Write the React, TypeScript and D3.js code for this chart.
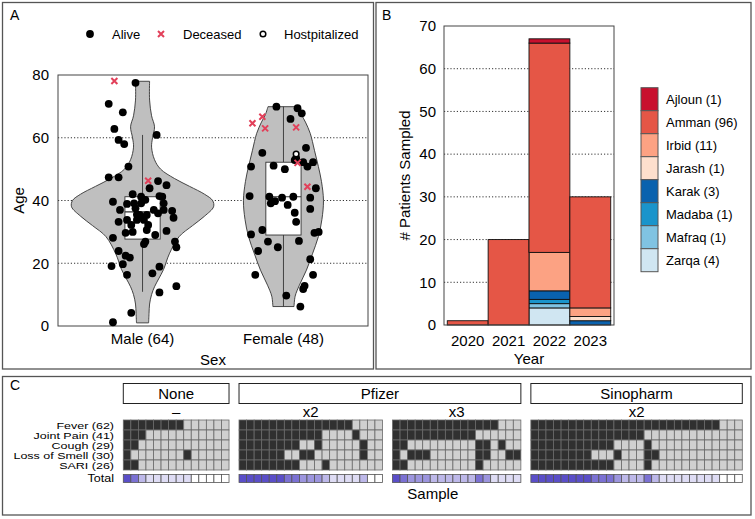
import React from 'react';
import * as d3 from 'd3';

const FONT = '"Liberation Sans", Arial, Helvetica, sans-serif';

// ---------- Panel A data ----------
const sexCategories = ['Male (64)', 'Female (48)'];
const ageTicks = [0, 20, 40, 60, 80];
const ageGrid = [20, 40, 60];
const statusLegend = ['Alive', 'Deceased', 'Hostpitalized'];
// [jitter (category units), age, status]  0 alive, 1 deceased, 2 hospitalized
const malePoints: [number, number, number][] = [
  [-0.2, 78.1, 1], [-0.05, 77.5, 0], [-0.24, 70.8, 0], [-0.14, 68.1, 0], [-0.2, 62.8, 0],
  [0.1, 60.9, 0], [-0.17, 59.3, 0], [-0.13, 58, 0], [-0.1, 50.8, 0], [-0.24, 47.4, 0],
  [-0.17, 47.4, 0], [0.04, 46.3, 1], [0.11, 46.2, 0], [0.17, 44.9, 0], [0.05, 43.9, 0],
  [-0.21, 39.6, 0], [-0.07, 42, 0], [-0.01, 41.2, 0], [0.12, 41.4, 0], [0.14, 41.2, 0],
  [0.02, 40.2, 0], [-0.11, 38.9, 0], [-0.06, 39.1, 0], [-0.01, 39.1, 0], [0.15, 39.1, 0],
  [-0.16, 37, 0], [0.08, 37, 0], [0.15, 37, 0], [0.21, 36.7, 0], [0.11, 35.9, 0],
  [-0.02, 35.4, 0], [0.03, 35.4, 0], [0.22, 34.5, 0], [-0.17, 33.2, 0], [-0.11, 33.8, 0],
  [-0.04, 33.8, 0], [0.01, 33.8, 0], [-0.08, 32.2, 0], [0.04, 32.2, 0], [0.03, 30.6, 0],
  [0.17, 30.3, 0], [-0.12, 29.7, 0], [-0.07, 30, 0], [0.09, 29, 0], [-0.21, 28.1, 0],
  [0.02, 26.9, 0], [0.23, 26.9, 0], [0.01, 26.1, 0], [0.24, 25.1, 0], [-0.17, 23.9, 0],
  [-0.12, 22.4, 0], [-0.09, 21.8, 0], [-0.14, 19.7, 0], [-0.22, 19.1, 0], [0.12, 18.9, 0],
  [0.07, 16.8, 0], [-0.11, 16.3, 0], [0.24, 12.7, 0], [0.12, 10.7, 0], [-0.08, 4.2, 0],
  [-0.21, 1.2, 0], [-0.05, 37.5, 0], [0.0, 34.5, 0], [-0.04, 35.5, 0],
];
const femalePoints: [number, number, number][] = [
  [-0.05, 69.9, 0], [0.1, 69.4, 0], [0.13, 67.8, 0], [-0.22, 64.6, 1], [-0.15, 66.7, 1],
  [-0.13, 63, 1], [0.09, 63.3, 1], [0.05, 66, 0], [0.16, 56.8, 0], [-0.15, 55.2, 0],
  [0.08, 52.9, 0], [0.14, 52.2, 0], [0.21, 52.2, 0], [0.17, 50.8, 0],
  [-0.23, 50.8, 0], [-0.07, 51.1, 0], [0.01, 50, 0], [0.17, 44.4, 1], [0.23, 43.9, 0],
  [-0.24, 41.4, 0], [-0.1, 41.2, 0], [-0.01, 40.9, 0], [0.07, 41.2, 0], [0.19, 40.9, 0],
  [-0.09, 39.1, 0], [-0.06, 39.8, 0], [0.03, 38.6, 0], [0.19, 37.3, 0], [0.08, 36.1, 0],
  [0.09, 33.2, 0], [-0.23, 29.2, 0], [-0.15, 30.6, 0], [0.22, 29.7, 0], [0.25, 30, 0],
  [-0.11, 26.9, 0], [0.11, 27.1, 0], [-0.04, 25.1, 0], [-0.18, 23.9, 0], [0.19, 21.3, 0],
  [-0.2, 16.3, 0], [0.21, 16.3, 0], [0.15, 12.8, 0], [0.14, 11.8, 0], [0.02, 9.7, 0],
  [0.12, 6.2, 0], [0.09, 53.5, 0], [0.1, 52, 1], [0.09, 54.8, 2],
];
// violin profiles: [age, half width in category units]
const maleViolin: [number, number][] = [
  [1, 0.043], [4, 0.046], [7, 0.05], [10, 0.064], [12.5, 0.085], [15, 0.114], [18, 0.149],
  [23, 0.19], [28.5, 0.26], [32, 0.355], [35, 0.44], [38, 0.504], [40, 0.497], [42, 0.44],
  [44.5, 0.334], [47, 0.227], [50, 0.128], [53, 0.085], [57, 0.064], [60, 0.071],
  [63.5, 0.085], [67, 0.064], [72, 0.05], [78, 0.05],
];
const femaleViolin: [number, number][] = [
  [6.2, 0.075], [9.5, 0.083], [13, 0.113], [17.8, 0.163], [23, 0.206], [28.5, 0.248],
  [34, 0.273], [40, 0.284], [46, 0.27], [50.8, 0.248], [56, 0.22], [61.4, 0.19],
  [65, 0.156], [67.4, 0.128], [69.9, 0.11],
];
// [lower whisker, q1, median, q3, upper whisker]
const maleBox = [10.9, 27.7, 36.4, 41.2, 60.9];
const femaleBox = [6.2, 29, 41.2, 52.2, 69.9];

// ---------- Panel B data ----------
const years = ['2020', '2021', '2022', '2023'];
const regions = ['Ajloun', 'Amman', 'Irbid', 'Jarash', 'Karak', 'Madaba', 'Mafraq', 'Zarqa'];
const regionColors = ['#c8102e', '#e55646', '#fca283', '#fddfcd', '#0a62ae', '#1a94cb', '#80c3e2', '#d0e6f2'];
const ajloun = [0, 0, 1, 0];
const amman = [1, 20, 49, 26];
const irbid = [0, 0, 9, 2];
const jarash = [0, 0, 0, 1];
const karak = [0, 0, 2, 1];
const madaba = [0, 0, 1, 0];
const mafraq = [0, 0, 1, 0];
const zarqa = [0, 0, 4, 0];
const patientTicks = [0, 10, 20, 30, 40, 50, 60, 70];
const patientGrid = [10, 20, 30, 40, 50, 60];

// ---------- Panel C data ----------
const symptoms = ['Fever', 'Joint Pain', 'Cough', 'Loss of Smell', 'SARI'];
const facetStrips = ['None', 'Pfizer', 'Pfizer', 'Sinopharm'];
const facetDoses = ['–', 'x2', 'x3', 'x2'];
const noneGrid = [
  [1, 1, 1, 1, 1, 1, 1, 1, 0, 0, 0, 0, 0, 0],
  [1, 1, 1, 0, 0, 0, 0, 0, 0, 0, 0, 0, 0, 0],
  [1, 1, 0, 0, 0, 0, 0, 0, 0, 0, 0, 0, 0, 0],
  [1, 0, 0, 0, 0, 0, 0, 0, 1, 0, 0, 0, 0, 0],
  [1, 1, 0, 0, 0, 0, 0, 0, 0, 0, 0, 0, 0, 0],
];
const pfizer2Grid = [
  [1, 1, 1, 1, 1, 1, 1, 1, 1, 1, 1, 1, 1, 1, 1, 0, 0, 0, 0],
  [1, 1, 1, 1, 1, 1, 1, 1, 1, 1, 1, 0, 0, 0, 0, 1, 0, 0, 0],
  [1, 1, 1, 1, 1, 1, 1, 1, 0, 0, 1, 0, 0, 0, 0, 0, 1, 0, 0],
  [1, 1, 1, 1, 1, 1, 0, 0, 1, 1, 0, 0, 0, 0, 0, 0, 1, 0, 0],
  [1, 1, 1, 1, 1, 1, 1, 1, 0, 0, 0, 1, 0, 0, 0, 0, 0, 0, 0],
];
const pfizer3Grid = [
  [1, 1, 1, 1, 1, 1, 1, 1, 1, 1, 1, 1, 1, 1, 0, 0, 0],
  [1, 1, 1, 1, 1, 1, 1, 1, 1, 1, 1, 0, 0, 0, 0, 0, 0],
  [1, 1, 0, 0, 0, 0, 0, 0, 0, 0, 0, 1, 1, 0, 1, 0, 0],
  [1, 0, 1, 1, 1, 0, 0, 0, 0, 0, 0, 1, 1, 0, 0, 1, 1],
  [1, 1, 0, 0, 0, 0, 0, 0, 0, 0, 0, 1, 0, 0, 0, 0, 0],
];
const sinopharmGrid = [
  [1, 1, 1, 1, 1, 1, 1, 1, 1, 1, 1, 1, 1, 1, 1, 1, 1, 1, 1, 1, 1, 1, 1, 1, 1, 0, 0, 0],
  [1, 1, 1, 1, 1, 1, 1, 1, 1, 1, 1, 1, 1, 1, 1, 0, 0, 0, 0, 0, 0, 0, 0, 0, 0, 0, 0, 0],
  [1, 1, 1, 1, 1, 1, 1, 1, 1, 1, 1, 0, 0, 0, 0, 1, 0, 0, 0, 0, 0, 0, 0, 0, 0, 0, 0, 0],
  [1, 1, 1, 1, 1, 1, 1, 1, 0, 0, 0, 1, 0, 0, 0, 1, 1, 0, 0, 0, 0, 0, 0, 0, 0, 0, 0, 0],
  [1, 1, 1, 1, 1, 1, 1, 1, 1, 1, 1, 0, 0, 0, 0, 1, 0, 0, 0, 0, 0, 0, 0, 0, 0, 0, 0, 0],
];

const RED = '#e2405a';

function PanelA() {
  const x = d3.scaleLinear().domain([0.4, 2.6]).range([58, 368]);
  const y = d3.scaleLinear().domain([0, 80]).range([326, 75]);
  const unit = x(1) - x(0);
  const violins = [maleViolin, femaleViolin];
  const boxes = [maleBox, femaleBox];
  const pts = [malePoints, femalePoints];
  const boxHalf = 0.125;
  return (
    <g fontFamily={FONT}>
      <text x={10} y={20} fontSize={14}>A</text>
      {/* legend */}
      <circle cx={90} cy={34} r={3.9} fill="#000" />
      <text x={112} y={39} fontSize={13}>{statusLegend[0]}</text>
      <path d="M158,31 L164,37 M158,37 L164,31" stroke={RED} strokeWidth={2} />
      <text x={183} y={39} fontSize={13}>{statusLegend[1]}</text>
      <circle cx={263} cy={34} r={2.8} fill="#fff" stroke="#000" strokeWidth={1.5} />
      <text x={284} y={39} fontSize={13}>{statusLegend[2]}</text>
      {ageGrid.map((t) => (
        <line key={t} x1={58} x2={368} y1={y(t)} y2={y(t)} stroke="#333" strokeWidth={1} strokeDasharray="1.2,2" />
      ))}
      <rect x={58} y={75} width={310} height={251} fill="none" stroke="#444" strokeWidth={1} />
      {ageTicks.map((t) => (
        <text key={t} x={49} y={y(t)} dy="0.35em" textAnchor="end" fontSize={15}>{t}</text>
      ))}
      <text transform={`translate(19,${(75 + 326) / 2}) rotate(-90)`} textAnchor="middle" dy="0.35em" fontSize={15}>Age</text>
      {sexCategories.map((c, i) => (
        <text key={c} x={x(i + 1)} y={344} textAnchor="middle" fontSize={15}>{c}</text>
      ))}
      <text x={213} y={365} textAnchor="middle" fontSize={15}>Sex</text>
      {violins.map((v, i) => {
        const cx = i + 1;
        const area = d3
          .area<[number, number]>()
          .y((d) => y(d[0]))
          .x0((d) => x(cx - d[1]))
          .x1((d) => x(cx + d[1]))
          .curve(d3.curveCatmullRom);
        return <path key={i} d={area(v) || ''} fill="#bfbfbf" stroke="#333" strokeWidth={0.9} />;
      })}
      {boxes.map((b, i) => {
        const cx = i + 1;
        return (
          <g key={i} stroke="#333" strokeWidth={0.9}>
            <line x1={x(cx)} x2={x(cx)} y1={y(b[0])} y2={y(b[1])} />
            <line x1={x(cx)} x2={x(cx)} y1={y(b[3])} y2={y(b[4])} />
            <rect x={x(cx - boxHalf)} width={2 * boxHalf * unit} y={y(b[3])} height={y(b[1]) - y(b[3])} fill="#fff" />
            <line x1={x(cx - boxHalf)} x2={x(cx + boxHalf)} y1={y(b[2])} y2={y(b[2])} strokeWidth={1.2} />
          </g>
        );
      })}
      {pts.map((arr, i) =>
        arr.map((p, j) => {
          const px = x(i + 1 + p[0]);
          const py = y(p[1]);
          if (p[2] === 1)
            return (
              <path key={`${i}-${j}`} d={`M${px - 3},${py - 3} L${px + 3},${py + 3} M${px - 3},${py + 3} L${px + 3},${py - 3}`} stroke={RED} strokeWidth={2} />
            );
          if (p[2] === 2)
            return <circle key={`${i}-${j}`} cx={px} cy={py} r={2.8} fill="#fff" stroke="#000" strokeWidth={1.5} />;
          return <circle key={`${i}-${j}`} cx={px} cy={py} r={3.9} fill="#000" />;
        })
      )}
    </g>
  );
}

function PanelB() {
  const x = d3.scaleBand().domain(years).range([444, 614]).paddingInner(0).paddingOuter(0.08);
  const y = d3.scaleLinear().domain([0, 70]).range([325, 26]);
  const seriesArr = [ajloun, amman, irbid, jarash, karak, madaba, mafraq, zarqa];
  const rows = years.map((yr, i) => {
    const o: any = { year: yr };
    regions.forEach((r, k) => (o[r] = seriesArr[k][i]));
    return o;
  });
  const stackKeys = regions.slice().reverse();
  const stacked = d3.stack().keys(stackKeys)(rows);
  const color = d3.scaleOrdinal<string, string>().domain(regions).range(regionColors);
  const totals = seriesArr.map((s) => d3.sum(s));
  const legY = d3.scaleBand().domain(regions).range([87.7, 271.7]);
  return (
    <g fontFamily={FONT}>
      <text x={382} y={20} fontSize={14}>B</text>
      {patientGrid.map((t) => (
        <line key={t} x1={444} x2={614} y1={y(t)} y2={y(t)} stroke="#333" strokeWidth={1} strokeDasharray="1.2,2" />
      ))}
      {stacked.map((s) =>
        s.map((d, i) =>
          d[1] - d[0] > 0 ? (
            <rect
              key={`${s.key}-${i}`}
              x={x(years[i])}
              width={x.bandwidth()}
              y={y(d[1])}
              height={y(d[0]) - y(d[1])}
              fill={color(s.key as string)}
              stroke="#111"
              strokeWidth={0.9}
            />
          ) : null
        )
      )}
      <rect x={444} y={26} width={170} height={299} fill="none" stroke="#444" strokeWidth={1} />
      {patientTicks.map((t) => (
        <text key={t} x={436} y={y(t)} dy="0.35em" textAnchor="end" fontSize={15}>{t}</text>
      ))}
      {years.map((yr) => (
        <text key={yr} x={(x(yr) as number) + x.bandwidth() / 2} y={346} textAnchor="middle" fontSize={15}>{yr}</text>
      ))}
      <text x={529} y={364} textAnchor="middle" fontSize={15}>Year</text>
      <text transform={`translate(405,${(26 + 325) / 2}) rotate(-90)`} textAnchor="middle" dy="0.35em" fontSize={15}># Patients Sampled</text>
      {regions.map((r, k) => (
        <g key={r}>
          <rect x={641} y={legY(r)} width={17} height={legY.bandwidth()} fill={color(r)} stroke="#555" strokeWidth={1} />
          <text x={666} y={(legY(r) as number) + legY.bandwidth() / 2} dy="0.35em" fontSize={13}>{`${r} (${totals[k]})`}</text>
        </g>
      ))}
    </g>
  );
}

function PanelC() {
  const grids = [noneGrid, pfizer2Grid, pfizer3Grid, sinopharmGrid];
  const ncols = grids.map((g) => g[0].length);
  const left = 123.3;
  const right = 742.3;
  const gap = 10;
  const totalCols = d3.sum(ncols);
  const cell = (right - left - gap * (grids.length - 1)) / totalCols;
  const starts: number[] = [];
  let acc = left;
  ncols.forEach((n) => {
    starts.push(acc);
    acc += n * cell + gap;
  });
  const y = d3.scaleBand().domain(symptoms).range([420, 470]);
  const totalColor = d3.scaleLinear<string>().domain([0, symptoms.length]).range(['#ffffff', '#5a4ec8']);
  const counts = symptoms.map((_, r) => d3.sum(grids, (g) => d3.sum(g[r])));
  const stripGroups: { label: string; from: number; to: number }[] = [];
  facetStrips.forEach((s, i) => {
    const last = stripGroups[stripGroups.length - 1];
    if (last && last.label === s) last.to = i;
    else stripGroups.push({ label: s, from: i, to: i });
  });
  return (
    <g fontFamily={FONT}>
      <text x={10} y={390} fontSize={14}>C</text>
      {stripGroups.map((sg) => {
        const x0 = starts[sg.from];
        const x1 = starts[sg.to] + ncols[sg.to] * cell;
        return (
          <g key={sg.label}>
            <rect x={x0} y={383.5} width={x1 - x0} height={20} fill="#fff" stroke="#222" strokeWidth={1} />
            <text x={(x0 + x1) / 2} y={398.5} textAnchor="middle" fontSize={15}>{sg.label}</text>
          </g>
        );
      })}
      {grids.map((g, f) => {
        const xs = d3.scaleBand<number>().domain(d3.range(ncols[f])).range([starts[f], starts[f] + ncols[f] * cell]);
        return (
          <g key={f}>
            <text x={starts[f] + (ncols[f] * cell) / 2} y={417} textAnchor="middle" fontSize={15}>{facetDoses[f]}</text>
            {g.map((row, r) =>
              row.map((v, c) => (
                <rect
                  key={`${r}-${c}`}
                  x={xs(c)}
                  y={y(symptoms[r])}
                  width={xs.bandwidth()}
                  height={y.bandwidth()}
                  fill={v ? '#303030' : '#d0d0d0'}
                  stroke="#6a6a6a"
                  strokeWidth={0.8}
                />
              ))
            )}
            {d3.range(ncols[f]).map((c) => {
              const s = d3.sum(g, (row) => row[c]);
              return (
                <rect key={`t${c}`} x={xs(c)} y={474.5} width={xs.bandwidth()} height={8} fill={totalColor(s)} stroke="#555" strokeWidth={0.8} />
              );
            })}
          </g>
        );
      })}
      {symptoms.map((s, r) => (
        <text
          key={s}
          transform={`translate(114,${(y(s) as number) + y.bandwidth() / 2}) scale(1,0.78)`}
          dy="0.36em"
          textAnchor="end"
          fontSize={12.5}
        >{`${s} (${counts[r]})`}</text>
      ))}
      <text transform="translate(114,478.5) scale(1,0.85)" dy="0.36em" textAnchor="end" fontSize={12.5}>Total</text>
      <text x={(left + right) / 2} y={499} textAnchor="middle" fontSize={15}>Sample</text>
    </g>
  );
}

export default function App() {
  return (
    <svg width={755} height={519} style={{ position: 'absolute', left: 0, top: 0, background: '#fff' }}>
      <rect x={0} y={0} width={755} height={519} fill="#fff" />
      <rect x={2.5} y={2.5} width={371} height={366.5} fill="none" stroke="#555" strokeWidth={1.3} />
      <rect x={376} y={2.5} width={375} height={366.5} fill="none" stroke="#555" strokeWidth={1.3} />
      <rect x={2.5} y={376.5} width={748.5} height={138.5} fill="none" stroke="#555" strokeWidth={1.3} />
      <PanelA />
      <PanelB />
      <PanelC />
    </svg>
  );
}
